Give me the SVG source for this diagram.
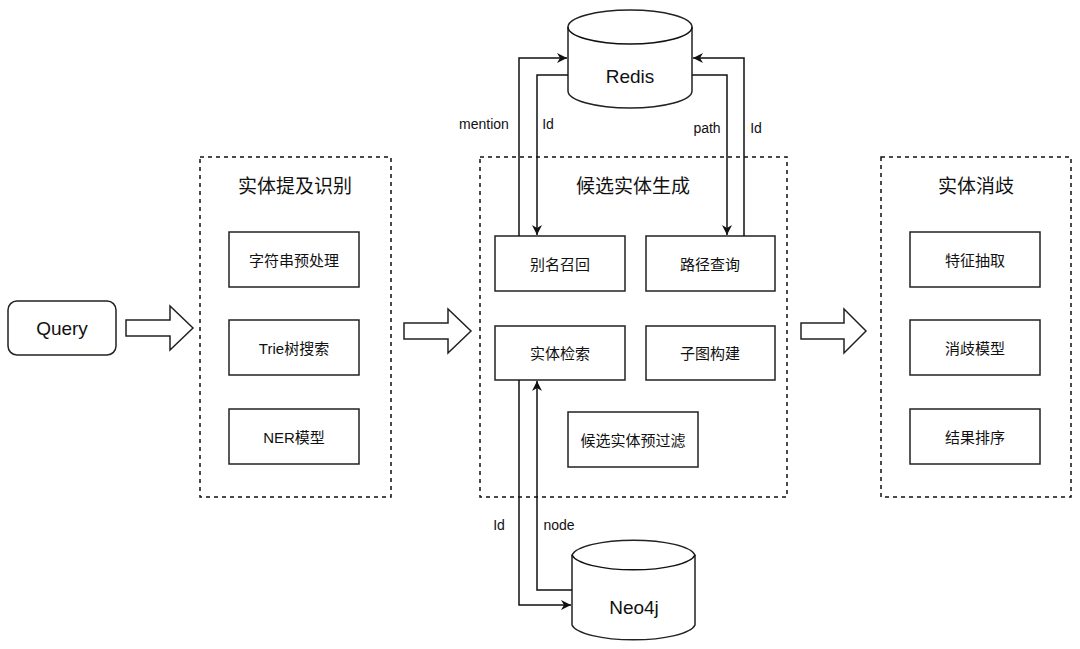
<svg xmlns="http://www.w3.org/2000/svg" width="1080" height="649" viewBox="0 0 1080 649">
<defs>
<style>
text{font-family:"Liberation Sans","Noto Sans CJK SC",sans-serif;fill:#111;text-anchor:middle;dominant-baseline:central}
.box{fill:#fff;stroke:#222;stroke-width:1.5}
.dash{fill:none;stroke:#111;stroke-width:1.5;stroke-dasharray:4 4}
.ln{fill:none;stroke:#111;stroke-width:1.5}
.t{font-size:15px}
.h{font-size:19px}
.l{font-size:14px}
</style>
<marker id="a" viewBox="0 0 10 10" refX="10" refY="5" markerWidth="10" markerHeight="10" orient="auto" markerUnits="userSpaceOnUse"><path d="M0,0 L10,5 L0,10 L3,5z" fill="#111"/></marker>
</defs>
<rect width="1080" height="649" fill="#fff"/>
<g id="query"><rect class="box" x="8" y="301" width="108" height="54" rx="9"/><text x="62" y="328" style="font-size:19px">Query</text></g>
<g id="g1"><rect class="dash" x="200" y="157" width="191" height="340"/><text class="h" x="295" y="186">实体提及识别</text></g>
<g id="n1"><rect class="box" x="229" y="232" width="130" height="55"/><text class="t" x="294" y="260">字符串预处理</text></g>
<g id="n2"><rect class="box" x="229" y="320" width="130" height="55"/><text class="t" x="294" y="348">Trie树搜索</text></g>
<g id="n3"><rect class="box" x="229" y="409" width="130" height="55"/><text class="t" x="294" y="437">NER模型</text></g>
<g id="g2"><rect class="dash" x="480" y="157" width="307" height="340"/><text class="h" x="633" y="186">候选实体生成</text></g>
<g id="m1"><rect class="box" x="495" y="236" width="130" height="55"/><text class="t" x="560" y="264">别名召回</text></g>
<g id="m2"><rect class="box" x="646" y="236" width="129" height="55"/><text class="t" x="710" y="264">路径查询</text></g>
<g id="m3"><rect class="box" x="495" y="326" width="130" height="54"/><text class="t" x="560" y="353">实体检索</text></g>
<g id="m4"><rect class="box" x="646" y="326" width="129" height="54"/><text class="t" x="710" y="353">子图构建</text></g>
<g id="m5"><rect class="box" x="568" y="412" width="130" height="55"/><text class="t" x="633" y="440">候选实体预过滤</text></g>
<g id="g3"><rect class="dash" x="881" y="157" width="190" height="340"/><text class="h" x="976" y="186">实体消歧</text></g>
<g id="r1"><rect class="box" x="910" y="232" width="130" height="55"/><text class="t" x="975" y="260">特征抽取</text></g>
<g id="r2"><rect class="box" x="910" y="320" width="130" height="55"/><text class="t" x="975" y="348">消歧模型</text></g>
<g id="r3"><rect class="box" x="910" y="409" width="130" height="55"/><text class="t" x="975" y="437">结果排序</text></g>
<g id="redis"><path class="box" d="M568,27 A62,17 0 0 1 692,27 V91 A62,17 0 0 1 568,91 Z"/><path class="ln" d="M568,27 A62,17 0 0 0 692,27"/><text x="630" y="76" style="font-size:19px">Redis</text></g>
<g id="neo4j"><path class="box" d="M572,555 A62,17 0 0 1 695,555 V625 A62,17 0 0 1 572,625 Z"/><path class="ln" d="M572,555 A62,17 0 0 0 695,555"/><text x="634" y="607" style="font-size:19px">Neo4j</text></g>
<g id="connectors">
<path class="box" d="M126,320 H170 V306 L193,328 L170,350 V336 H126 Z"/>
<path class="box" d="M404,323 H448 V309 L471,331 L448,353 V339 H404 Z"/>
<path class="box" d="M801,323 H844 V309 L866,331 L844,353 V339 H801 Z"/>
<path class="ln" d="M519,236 V58 H567" marker-end="url(#a)"/>
<path class="ln" d="M568,75 H537 V235" marker-end="url(#a)"/>
<path class="ln" d="M692,75 H727 V235" marker-end="url(#a)"/>
<path class="ln" d="M744,236 V58 H693" marker-end="url(#a)"/>
<path class="ln" d="M519,380 V605 H571" marker-end="url(#a)"/>
<path class="ln" d="M572,590 H537 V381" marker-end="url(#a)"/>
</g>
<text class="l" x="484" y="124">mention</text>
<text class="l" x="548" y="124">Id</text>
<text class="l" x="707" y="128">path</text>
<text class="l" x="756" y="128">Id</text>
<text class="l" x="499" y="525">Id</text>
<text class="l" x="559" y="525">node</text>
</svg>
